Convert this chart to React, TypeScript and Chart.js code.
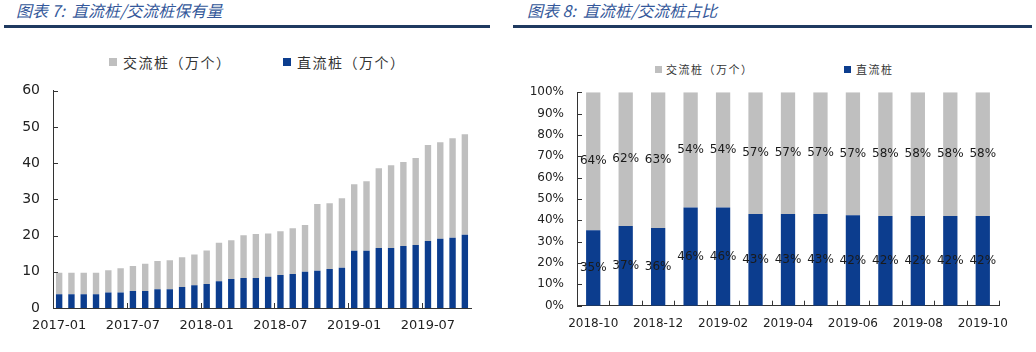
import React, { useEffect, useRef } from "react";
import { Chart, registerables } from "chart.js";

Chart.register(...registerables);

// ---------- Data: chart 7 (stock, 万个) ----------
const stockMonths = [
  "2017-01", "2017-02", "2017-03", "2017-04", "2017-05", "2017-06",
  "2017-07", "2017-08", "2017-09", "2017-10", "2017-11", "2017-12",
  "2018-01", "2018-02", "2018-03", "2018-04", "2018-05", "2018-06",
  "2018-07", "2018-08", "2018-09", "2018-10", "2018-11", "2018-12",
  "2019-01", "2019-02", "2019-03", "2019-04", "2019-05", "2019-06",
  "2019-07", "2019-08", "2019-09", "2019-10",
];
const dcStock = [
  3.8, 3.8, 3.8, 3.8, 4.3, 4.3, 4.7, 4.7, 5.2, 5.2, 5.8, 6.3,
  6.6, 7.4, 8.0, 8.3, 8.3, 8.6, 9.1, 9.4, 10.0, 10.3, 10.8, 11.1,
  15.8, 15.8, 16.6, 16.6, 17.1, 17.4, 18.5, 19.1, 19.4, 20.2,
];
const acStock = [
  5.9, 5.9, 5.9, 5.9, 6.1, 6.7, 6.9, 7.5, 7.8, 8.0, 8.2, 8.5,
  9.3, 10.6, 10.7, 11.8, 12.1, 12.0, 12.1, 12.6, 12.9, 18.4, 18.1, 19.2,
  18.4, 19.2, 22.0, 22.8, 23.2, 24.0, 26.5, 26.7, 27.5, 27.8,
];
const stockTicks = [0, 10, 20, 30, 40, 50, 60];

// ---------- Data: chart 8 (share, %) ----------
const shareMonths = [
  "2018-10", "2018-11", "2018-12", "2019-01", "2019-02", "2019-03", "2019-04",
  "2019-05", "2019-06", "2019-07", "2019-08", "2019-09", "2019-10",
];
const dcShare = [35, 37, 36, 46, 46, 43, 43, 43, 42, 42, 42, 42, 42];
const acShare = [64, 62, 63, 54, 54, 57, 57, 57, 57, 58, 58, 58, 58];
const shareTicks = [0, 10, 20, 30, 40, 50, 60, 70, 80, 90, 100];

const GREY = "#BFBFBF";
const BLUE = "#0C3D8E";
const AXIS = "#333333";
const NUM_FONT = "'DejaVu Sans', Verdana, sans-serif";
const CJK_FONT = "'Noto Sans CJK SC', 'Noto Sans', sans-serif";

const insideTicks = {
  id: "insideTicks",
  afterDraw(chart: any, _a: any, opts: any) {
    if (!opts || !opts.enabled) return;
    const { ctx, chartArea, scales } = chart;
    const len = opts.len || 5;
    ctx.save();
    ctx.strokeStyle = AXIS;
    ctx.lineWidth = 1;
    ctx.beginPath();
    const y = scales.y;
    y.ticks.forEach((_t: any, i: number) => {
      const py = Math.round(y.getPixelForTick(i)) + 0.5;
      ctx.moveTo(chartArea.left, py);
      ctx.lineTo(chartArea.left + len, py);
    });
    const x = scales.x;
    const n = chart.data.labels.length;
    for (let i = 1; i <= n; i++) {
      if (i % opts.xEvery !== 0) continue;
      if (i === n && !opts.includeEnd) continue;
      const px = Math.round(x.getPixelForValue(i - 0.5)) + 0.5;
      ctx.moveTo(px, chartArea.bottom);
      ctx.lineTo(px, chartArea.bottom - len);
    }
    ctx.stroke();
    ctx.restore();
  },
};

const segLabels = {
  id: "segLabels",
  afterDatasetsDraw(chart: any, _a: any, opts: any) {
    if (!opts || !opts.enabled) return;
    const { ctx } = chart;
    ctx.save();
    ctx.font = `12px ${NUM_FONT}`;
    ctx.fillStyle = "#1a1a1a";
    ctx.textAlign = "center";
    ctx.textBaseline = "middle";
    chart.data.datasets.forEach((ds: any, di: number) => {
      const meta = chart.getDatasetMeta(di);
      meta.data.forEach((el: any, i: number) => {
        const txt = ds.labelValues[i] + "%";
        ctx.fillText(txt, el.x, (el.y + el.base) / 2);
      });
    });
    ctx.restore();
  },
};

function StockChart() {
  const ref = useRef<HTMLCanvasElement>(null);
  useEffect(() => {
    const chart = new Chart(ref.current as HTMLCanvasElement, {
      type: "bar",
      data: {
        labels: stockMonths,
        datasets: [
          { label: "直流桩（万个）", data: dcStock, backgroundColor: BLUE, stack: "s" },
          { label: "交流桩（万个）", data: acStock, backgroundColor: GREY, stack: "s" },
        ],
      },
      plugins: [insideTicks],
      options: {
        animation: false,
        responsive: false,
        maintainAspectRatio: false,
        layout: { padding: { top: 50.7, right: 29, bottom: 0, left: 0 } },
        datasets: { bar: { categoryPercentage: 1, barPercentage: 0.52 } },
        plugins: {
          legend: { display: false },
          tooltip: { enabled: false },
          insideTicks: { enabled: true, len: 5, xEvery: 6, includeEnd: false },
        } as any,
        scales: {
          x: {
            stacked: true,
            grid: { display: false, drawTicks: false },
            border: { display: true, color: AXIS, width: 1 },
            ticks: {
              autoSkip: false,
              maxRotation: 0,
              padding: 10,
              color: "#222",
              font: { family: NUM_FONT, size: 13 },
              callback: (_v: any, i: number) => (i % 6 === 0 ? stockMonths[i] : ""),
            },
            afterFit: (s: any) => { s.height = 44; },
          },
          y: {
            stacked: true,
            min: 0,
            max: 60,
            grid: { display: false, drawTicks: false },
            border: { display: true, color: AXIS, width: 1 },
            afterBuildTicks: (s: any) => { s.ticks = stockTicks.map((v) => ({ value: v })); },
            ticks: {
              padding: 13,
              color: "#222",
              font: { family: NUM_FONT, size: 14 },
            },
            afterFit: (s: any) => { s.width = 53; },
          },
        },
      },
    } as any);
    return () => chart.destroy();
  }, []);
  return <canvas ref={ref} width={500} height={312} style={{ position: "absolute", left: 0, top: 40, width: 500, height: 312 }} />;
}

function ShareChart() {
  const ref = useRef<HTMLCanvasElement>(null);
  useEffect(() => {
    const dcHeights = dcShare.map((v, i) => (v / (v + acShare[i])) * 100);
    const acHeights = acShare.map((v, i) => (v / (dcShare[i] + v)) * 100);
    const chart = new Chart(ref.current as HTMLCanvasElement, {
      type: "bar",
      data: {
        labels: shareMonths,
        datasets: [
          { label: "直流桩", data: dcHeights, labelValues: dcShare, backgroundColor: BLUE, stack: "s" },
          { label: "交流桩（万个）", data: acHeights, labelValues: acShare, backgroundColor: GREY, stack: "s" },
        ],
      },
      plugins: [insideTicks, segLabels],
      options: {
        animation: false,
        responsive: false,
        maintainAspectRatio: false,
        layout: { padding: { top: 52.3, right: 37, bottom: 0, left: 0 } },
        datasets: { bar: { categoryPercentage: 1, barPercentage: 0.44 } },
        plugins: {
          legend: { display: false },
          tooltip: { enabled: false },
          insideTicks: { enabled: true, len: 5, xEvery: 1, includeEnd: true },
          segLabels: { enabled: true },
        } as any,
        scales: {
          x: {
            stacked: true,
            grid: { display: false, drawTicks: false },
            border: { display: true, color: AXIS, width: 1 },
            ticks: {
              autoSkip: false,
              maxRotation: 0,
              padding: 11,
              color: "#222",
              font: { family: NUM_FONT, size: 12 },
              callback: (_v: any, i: number) => (i % 2 === 0 ? shareMonths[i] : ""),
            },
            afterFit: (s: any) => { s.height = 46.3; },
          },
          y: {
            stacked: true,
            min: 0,
            max: 100,
            grid: { display: false, drawTicks: false },
            border: { display: true, color: AXIS, width: 1 },
            afterBuildTicks: (s: any) => { s.ticks = shareTicks.map((v) => ({ value: v })); },
            ticks: {
              padding: 13,
              color: "#222",
              font: { family: NUM_FONT, size: 12 },
              callback: (v: any) => v + "%",
            },
            afterFit: (s: any) => { s.width = 64; },
          },
        },
      },
    } as any);
    return () => chart.destroy();
  }, []);
  return <canvas ref={ref} width={523} height={312} style={{ position: "absolute", left: 513, top: 40, width: 523, height: 312 }} />;
}

const titleStyle: React.CSSProperties = {
  position: "absolute",
  top: 0,
  fontFamily: CJK_FONT,
  fontStyle: "italic",
  fontSize: 16,
  lineHeight: "20px",
  color: "#34589A",
  whiteSpace: "pre",
};

function LegendItem(props: { left: number; top: number; color: string; text: string; size: number; box: number; spacing?: number; gap: number }) {
  return (
    <div style={{ position: "absolute", left: props.left, top: props.top, display: "flex", alignItems: "center", whiteSpace: "pre" }}>
      <span style={{ display: "inline-block", width: props.box, height: props.box, background: props.color, marginRight: props.gap }} />
      <span style={{ fontFamily: CJK_FONT, fontSize: props.size, lineHeight: "16px", color: "#333", letterSpacing: props.spacing || 0 }}>{props.text}</span>
    </div>
  );
}

export default function App() {
  return (
    <div style={{ position: "absolute", left: 0, top: 0, width: 1036, height: 352, background: "#fff", overflow: "hidden" }}>
      <div style={{ ...titleStyle, left: 16 }}>{"图表 7:  直流桩/交流桩保有量"}</div>
      <div style={{ ...titleStyle, left: 527 }}>{"图表 8:  直流桩/交流桩占比"}</div>
      <div style={{ position: "absolute", left: 4, top: 25, width: 486, height: 3, background: "#1F3A60" }} />
      <div style={{ position: "absolute", left: 513, top: 25, width: 519, height: 3, background: "#1F3A60" }} />
      <LegendItem left={109} top={54} color={GREY} text="交流桩（万个）" size={14} box={8} gap={6} spacing={1.5} />
      <LegendItem left={283} top={54} color={BLUE} text="直流桩（万个）" size={14} box={8} gap={6} spacing={1.5} />
      <LegendItem left={655} top={61} color={GREY} text="交流桩（万个）" size={11} box={7} gap={4} spacing={1.5} />
      <LegendItem left={844} top={61} color={BLUE} text="直流桩" size={11} box={7} gap={5} spacing={1.5} />
      <StockChart />
      <ShareChart />
    </div>
  );
}
